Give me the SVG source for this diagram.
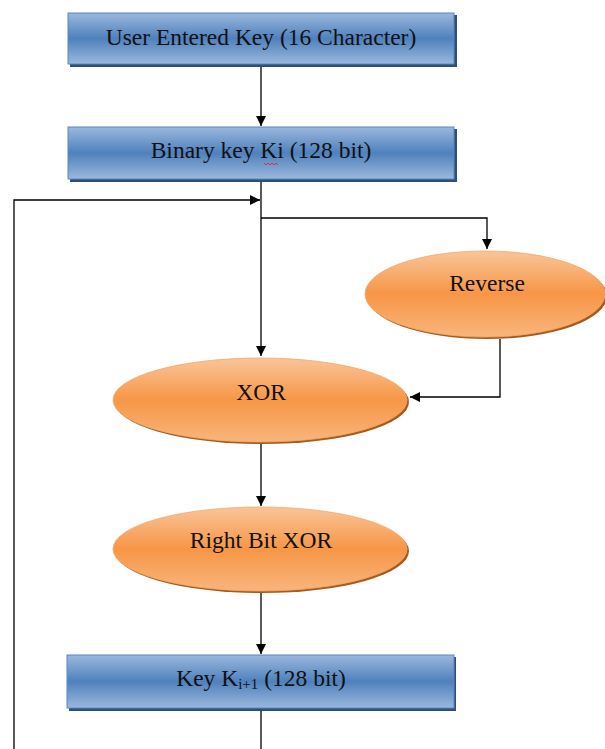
<svg xmlns="http://www.w3.org/2000/svg" width="605" height="749" viewBox="0 0 605 749">
<defs>
<linearGradient id="gBlue" x1="0" y1="0" x2="0" y2="1">
<stop offset="0" stop-color="#9bb8dd"/>
<stop offset="0.5" stop-color="#4f81bd"/>
<stop offset="1" stop-color="#9bb8dd"/>
</linearGradient>
<linearGradient id="gOrange" x1="0" y1="0" x2="0" y2="1">
<stop offset="0" stop-color="#f9c59a"/>
<stop offset="0.5" stop-color="#f79646"/>
<stop offset="1" stop-color="#f9b57c"/>
</linearGradient>
<marker id="arr" viewBox="0 0 10 10" refX="10" refY="5" markerWidth="10" markerHeight="10" markerUnits="userSpaceOnUse" orient="auto">
<path d="M0,0 L10,5 L0,10 Z" fill="#000"/>
</marker>
<style>
.box{fill:url(#gBlue);stroke:#5b87c2;stroke-width:1}
.boxsh{fill:#2f4f78}
.ell{fill:url(#gOrange);stroke:#f3a867;stroke-width:0.8}
.ellsh{fill:#a8591c}
.c{fill:none;stroke:#000;stroke-width:1.3}
</style>
</defs>
<g id="connectors">
<path class="c" d="M261,66 V126" marker-end="url(#arr)"/>
<path class="c" d="M261,181 V356" marker-end="url(#arr)"/>
<path class="c" d="M14,749 V200 H260" marker-end="url(#arr)"/>
<path class="c" d="M261,218 H487 V249" marker-end="url(#arr)"/>
<path class="c" d="M500,339 V397 H410" marker-end="url(#arr)"/>
<path class="c" d="M261,444 V506" marker-end="url(#arr)"/>
<path class="c" d="M261,593 V654" marker-end="url(#arr)"/>
<path class="c" d="M261,711 V749"/>
</g>
<g id="n1">
<rect class="boxsh" x="70" y="15" width="387" height="52"/>
<rect class="box" x="68" y="13" width="386" height="51"/>
<text x="261" y="45" font-size="23.5" fill="#111" text-anchor="middle" style="font-family:'Liberation Serif',serif">User Entered Key (16 Character)</text>
</g>
<g id="n2">
<rect class="boxsh" x="70" y="129" width="387" height="53"/>
<rect class="box" x="68" y="127" width="386" height="52"/>
<text x="261" y="158" font-size="23.5" fill="#111" text-anchor="middle" style="font-family:'Liberation Serif',serif">Binary key Ki (128 bit)</text>
<path d="M264,163 l2,2 l2,-2 l2,2 l2,-2 l2,2 l2,-2 l2,2" fill="none" stroke="#e02020" stroke-width="0.8"/>
</g>
<g id="n3">
<ellipse class="ellsh" cx="487" cy="296" rx="120" ry="43"/>
<ellipse class="ell" cx="485" cy="294" rx="120" ry="43"/>
<text x="487" y="291" font-size="23.5" fill="#111" text-anchor="middle" style="font-family:'Liberation Serif',serif">Reverse</text>
</g>
<g id="n4">
<ellipse class="ellsh" cx="262" cy="402" rx="147" ry="42"/>
<ellipse class="ell" cx="260" cy="400" rx="147" ry="42"/>
<text x="261" y="400" font-size="23.5" fill="#111" text-anchor="middle" style="font-family:'Liberation Serif',serif">XOR</text>
</g>
<g id="n5">
<ellipse class="ellsh" cx="262" cy="551" rx="147" ry="42"/>
<ellipse class="ell" cx="260" cy="549" rx="147" ry="42"/>
<text x="261" y="548" font-size="23.5" fill="#111" text-anchor="middle" style="font-family:'Liberation Serif',serif">Right Bit XOR</text>
</g>
<g id="n6">
<rect class="boxsh" x="69" y="657" width="387" height="54"/>
<rect class="box" x="67" y="655" width="387" height="53"/>
<text x="261" y="686" font-size="23.5" fill="#111" text-anchor="middle" style="font-family:'Liberation Serif',serif">Key K<tspan font-size="15" dy="3">i+1</tspan><tspan dy="-3"> (128 bit)</tspan></text>
</g>
</svg>
